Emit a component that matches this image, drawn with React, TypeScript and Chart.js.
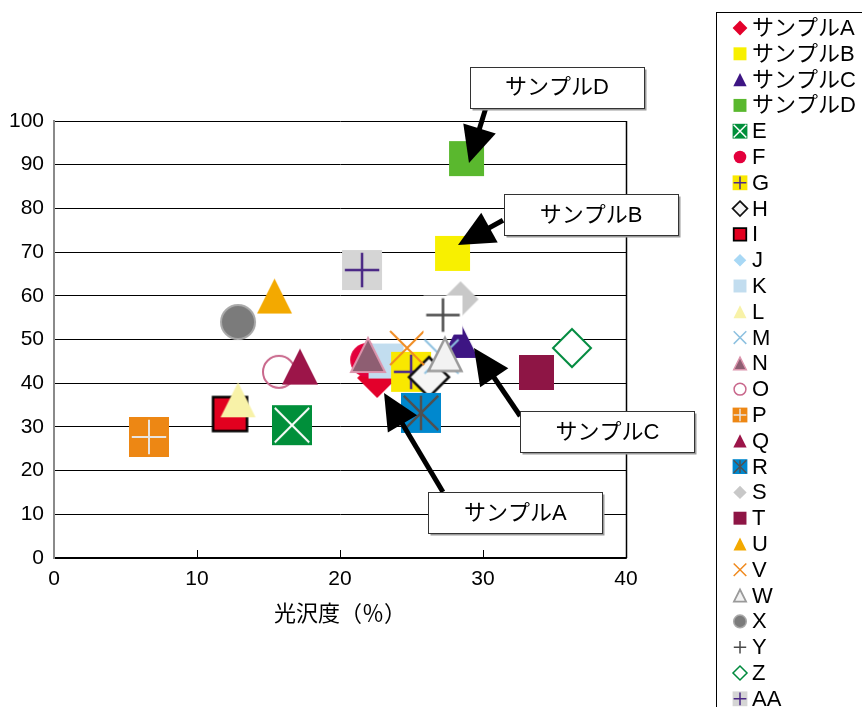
import { useEffect, useRef } from 'react';
import { Chart, registerables } from 'chart.js';

Chart.register(...registerables);

const FONT = '"Liberation Sans", "Noto Sans CJK JP", sans-serif';
const LABEL_FONT = `22px ${FONT}`;

// Series (legend order)
const seriesNames = [
  'サンプルA', 'サンプルB', 'サンプルC', 'サンプルD', 'E', 'F', 'G', 'H', 'I',
  'J', 'K', 'L', 'M', 'N', 'O', 'P', 'Q', 'R', 'S', 'T', 'U', 'V', 'W', 'X',
  'Y', 'Z', 'AA',
];

// 光沢度 (%)
const glossValues = [
  22.6, 27.87, 28.4, 28.85, 16.64, 21.9, 24.97, 26.22, 12.31,
  23.2, 23.22, 12.87, 27.1, 21.96, 15.73, 6.64, 17.2, 25.66, 28.43, 33.74,
  15.42, 24.69, 27.34, 12.87, 27.2, 36.22, 21.54,
];

// Vertical-axis values
const scoreValues = [
  41.2, 69.7, 49.9, 91.4, 30.4, 45.3, 42.6, 41.4, 32.95,
  45.1, 45.08, 36.2, 46.1, 46.45, 42.6, 27.7, 43.8, 33.2, 59.2, 42.45,
  59.95, 48.05, 46.57, 54.0, 55.6, 48.05, 65.9,
];

// Stacking rank of each series (higher is drawn on top)
const stackRank = [
  0, 1, 2, 3, 4, 5, 10.5, 10.7, 8,
  9, 10, 11, 12, 13, 14, 15, 16, 17, 18, 19,
  20, 21, 22, 23, 24, 25, 26,
];

// Axis ranges
const xMin = 0;
const xMax = 40;
const xStep = 10;
const yMin = 0;
const yMax = 100;
const yStep = 10;
const xTitle = '光沢度（％）';

// Callouts: label, box centre and arrow (tail → tip) in data units
const calloutLabels = ['サンプルD', 'サンプルB', 'サンプルC', 'サンプルA'];
const calloutBoxX = [35.17, 37.55, 38.7, 32.27];
const calloutBoxY = [107.7, 78.5, 28.95, 10.3];
const calloutTailX = [30.2, 31.4, 32.6, 27.2];
const calloutTailY = [103.0, 77.3, 32.5, 15.1];
const calloutTipX = [29.02, 28.25, 29.37, 23.08];
const calloutTipY = [90.4, 71.6, 48.05, 37.76];

type Shape = 'square' | 'diamond' | 'triangle' | 'circle' | 'x' | 'plus';
interface MarkerStyle {
  shape: Shape;
  size: number;
  fill?: string;
  stroke?: string;
  lineWidth?: number;
  inner?: 'x' | 'plus' | 'star';
  innerColor?: string;
  innerWidth?: number;
}

const markerStyles: MarkerStyle[] = [
  { shape: 'diamond', size: 40, fill: '#e3002b' },
  { shape: 'square', size: 35, fill: '#f8f000' },
  { shape: 'triangle', size: 36, fill: '#3d1583' },
  { shape: 'square', size: 35, fill: '#5ab82e' },
  { shape: 'square', size: 40, fill: '#008f3a', inner: 'x', innerColor: '#ffffff', innerWidth: 2 },
  { shape: 'circle', size: 34, fill: '#e3003c' },
  { shape: 'square', size: 40, fill: '#f9e800', inner: 'plus', innerColor: '#4b2a8a', innerWidth: 2.5 },
  { shape: 'diamond', size: 40, fill: '#f5f5f5', stroke: '#111111', lineWidth: 2.5 },
  { shape: 'square', size: 34, fill: '#e2001f', stroke: '#000000', lineWidth: 2.5 },
  { shape: 'diamond', size: 34, fill: '#a8d8f5' },
  { shape: 'square', size: 35, fill: '#c2ddef' },
  { shape: 'triangle', size: 35, fill: '#f8f2a8' },
  { shape: 'x', size: 34, stroke: '#8dc1e0', lineWidth: 2 },
  { shape: 'triangle', size: 34, fill: '#8e5e72', stroke: '#dc95ad', lineWidth: 2 },
  { shape: 'circle', size: 32, stroke: '#c9688c', lineWidth: 2 },
  { shape: 'square', size: 40, fill: '#ed8714', inner: 'plus', innerColor: '#e9e4df', innerWidth: 2 },
  { shape: 'triangle', size: 36, fill: '#9c1549' },
  { shape: 'square', size: 40, fill: '#0088ce', inner: 'star', innerColor: '#505050', innerWidth: 2.5 },
  { shape: 'diamond', size: 36, fill: '#c8c8c8' },
  { shape: 'square', size: 35, fill: '#8e1545' },
  { shape: 'triangle', size: 35, fill: '#f3a900' },
  { shape: 'x', size: 34, stroke: '#f08a1e', lineWidth: 2 },
  { shape: 'triangle', size: 33, fill: '#f2f2f2', stroke: '#9a9a9a', lineWidth: 2.5 },
  { shape: 'circle', size: 34, fill: '#7b7b7b', stroke: '#a8a8a8', lineWidth: 2 },
  { shape: 'square', size: 39, fill: '#ffffff', inner: 'plus', innerColor: '#4a4a4a', innerWidth: 2.5 },
  { shape: 'diamond', size: 38, fill: '#ffffff', stroke: '#008a3e', lineWidth: 2 },
  { shape: 'square', size: 40, fill: '#d5d5d5', inner: 'plus', innerColor: '#4a2785', innerWidth: 2.5 },
];

function drawMarker(ctx: CanvasRenderingContext2D, m: MarkerStyle, cx: number, cy: number, scale: number) {
  const s = m.size * scale;
  const h = s / 2;
  const small = scale < 1;
  ctx.save();
  ctx.beginPath();
  switch (m.shape) {
    case 'square':
      ctx.rect(cx - h, cy - h, s, s);
      break;
    case 'diamond':
      ctx.moveTo(cx, cy - h);
      ctx.lineTo(cx + h, cy);
      ctx.lineTo(cx, cy + h);
      ctx.lineTo(cx - h, cy);
      ctx.closePath();
      break;
    case 'triangle':
      ctx.moveTo(cx, cy - h);
      ctx.lineTo(cx + h, cy + h);
      ctx.lineTo(cx - h, cy + h);
      ctx.closePath();
      break;
    case 'circle':
      ctx.arc(cx, cy, h, 0, Math.PI * 2);
      break;
    case 'x':
      ctx.moveTo(cx - h, cy - h);
      ctx.lineTo(cx + h, cy + h);
      ctx.moveTo(cx + h, cy - h);
      ctx.lineTo(cx - h, cy + h);
      break;
    case 'plus':
      ctx.moveTo(cx - h, cy);
      ctx.lineTo(cx + h, cy);
      ctx.moveTo(cx, cy - h);
      ctx.lineTo(cx, cy + h);
      break;
  }
  if (m.fill) {
    ctx.fillStyle = m.fill;
    ctx.fill();
  }
  if (m.stroke) {
    ctx.strokeStyle = m.stroke;
    ctx.lineWidth = small ? Math.max(1.5, (m.lineWidth ?? 2) * 0.7) : m.lineWidth ?? 2;
    ctx.lineJoin = 'miter';
    ctx.stroke();
  }
  if (m.inner) {
    const a = h * 0.86;
    ctx.beginPath();
    if (m.inner === 'x' || m.inner === 'star') {
      ctx.moveTo(cx - a, cy - a);
      ctx.lineTo(cx + a, cy + a);
      ctx.moveTo(cx + a, cy - a);
      ctx.lineTo(cx - a, cy + a);
    }
    if (m.inner === 'star') {
      ctx.moveTo(cx, cy - a);
      ctx.lineTo(cx, cy + a);
    }
    if (m.inner === 'plus') {
      ctx.moveTo(cx - a, cy);
      ctx.lineTo(cx + a, cy);
      ctx.moveTo(cx, cy - a);
      ctx.lineTo(cx, cy + a);
    }
    ctx.strokeStyle = m.innerColor ?? '#000';
    ctx.lineWidth = small ? 1.5 : m.innerWidth ?? 2;
    ctx.stroke();
  }
  ctx.restore();
}

function markerCanvas(m: MarkerStyle): HTMLCanvasElement {
  const c = document.createElement('canvas');
  const dim = Math.ceil(m.size + (m.lineWidth ?? 0) + 4);
  c.width = dim;
  c.height = dim;
  const ctx = c.getContext('2d')!;
  drawMarker(ctx, m, dim / 2, dim / 2, 1);
  return c;
}

function drawArrow(ctx: CanvasRenderingContext2D, x0: number, y0: number, x1: number, y1: number) {
  const dx = x1 - x0;
  const dy = y1 - y0;
  const len = Math.hypot(dx, dy);
  const ux = dx / len;
  const uy = dy / len;
  const headLen = 36;
  const headHalf = 17;
  const bx = x1 - ux * headLen;
  const by = y1 - uy * headLen;
  ctx.save();
  ctx.strokeStyle = '#000';
  ctx.lineWidth = 5;
  ctx.beginPath();
  ctx.moveTo(x0, y0);
  ctx.lineTo(bx + ux * 4, by + uy * 4);
  ctx.stroke();
  ctx.fillStyle = '#000';
  ctx.beginPath();
  ctx.moveTo(x1, y1);
  ctx.lineTo(bx - uy * headHalf, by + ux * headHalf);
  ctx.lineTo(bx + uy * headHalf, by - ux * headHalf);
  ctx.closePath();
  ctx.fill();
  ctx.restore();
}

const pagePlugin = {
  id: 'pageDecor',
  beforeDraw(chart: any) {
    const { ctx, width, height } = chart;
    ctx.save();
    ctx.fillStyle = '#ffffff';
    ctx.fillRect(0, 0, width, height);
    ctx.restore();
  },
  beforeDatasetsDraw(chart: any) {
    const { ctx, chartArea } = chart;
    ctx.save();
    ctx.strokeStyle = '#000';
    ctx.lineWidth = 1.5;
    ctx.beginPath();
    ctx.moveTo(Math.round(chartArea.right) + 0.5, chartArea.top);
    ctx.lineTo(Math.round(chartArea.right) + 0.5, chartArea.bottom);
    ctx.stroke();
    ctx.restore();
  },
  afterDatasetsDraw(chart: any) {
    const { ctx } = chart;
    const xs = chart.scales.x;
    const ys = chart.scales.y;
    const boxW = 174;
    const boxH = 41;
    calloutLabels.forEach((_, i) => {
      drawArrow(
        ctx,
        xs.getPixelForValue(calloutTailX[i]),
        ys.getPixelForValue(calloutTailY[i]),
        xs.getPixelForValue(calloutTipX[i]),
        ys.getPixelForValue(calloutTipY[i]),
      );
    });
    calloutLabels.forEach((label, i) => {
      const cx = xs.getPixelForValue(calloutBoxX[i]);
      const cy = ys.getPixelForValue(calloutBoxY[i]);
      const left = Math.round(cx - boxW / 2) + 0.5;
      const top = Math.round(cy - boxH / 2) + 0.5;
      ctx.save();
      ctx.fillStyle = '#9a9a9a';
      ctx.fillRect(left + 2, top + 2, boxW, boxH);
      ctx.fillStyle = '#ffffff';
      ctx.fillRect(left, top, boxW, boxH);
      ctx.strokeStyle = '#333333';
      ctx.lineWidth = 1;
      ctx.strokeRect(left, top, boxW, boxH);
      ctx.fillStyle = '#000';
      ctx.font = LABEL_FONT;
      ctx.textAlign = 'center';
      ctx.textBaseline = 'middle';
      ctx.fillText(label, cx, cy + 1);
      ctx.restore();
    });
  },
  afterDraw(chart: any) {
    const { ctx } = chart;
    ctx.save();
    ctx.strokeStyle = '#000';
    ctx.lineWidth = 1;
    ctx.strokeRect(716.5, 12.5, 300, 760);
    ctx.font = LABEL_FONT;
    ctx.textAlign = 'left';
    ctx.textBaseline = 'middle';
    seriesNames.forEach((name, i) => {
      const y = 28 + i * 25.8;
      drawMarker(ctx, markerStyles[i], 740, y, 0.37);
      ctx.fillStyle = '#000';
      ctx.fillText(name, 752, y + 1);
    });
    ctx.restore();
  },
};

export default function App() {
  const ref = useRef<HTMLCanvasElement>(null);

  useEffect(() => {
    if (!ref.current) return;
    const datasets = seriesNames.map((name, i) => ({
      label: name,
      data: [{ x: glossValues[i], y: scoreValues[i] }],
      pointStyle: markerCanvas(markerStyles[i]),
      pointRadius: 20,
      pointHoverRadius: 20,
      showLine: false,
      order: -stackRank[i],
      clip: false as const,
    }));

    const chart = new Chart(ref.current, {
      type: 'scatter',
      data: { datasets },
      options: {
        responsive: false,
        animation: false,
        events: [],
        layout: { padding: { left: 0, right: 236, top: 121, bottom: 0 } },
        plugins: {
          legend: { display: false },
          tooltip: { enabled: false },
        },
        scales: {
          x: {
            type: 'linear',
            min: xMin,
            max: xMax,
            ticks: {
              stepSize: xStep,
              color: '#000',
              font: { family: FONT, size: 21 },
              padding: 17,
              maxRotation: 0,
            },
            grid: {
              drawOnChartArea: false,
              drawTicks: true,
              tickLength: -8,
              color: '#000',
              lineWidth: 1,
            },
            border: { display: true, color: '#000', width: 1.5 },
            title: {
              display: true,
              text: xTitle,
              color: '#000',
              font: { family: FONT, size: 22 },
              padding: { top: 0, bottom: 79 },
            },
            afterFit: (scale: any) => {
              scale.height = 149;
            },
          },
          y: {
            type: 'linear',
            min: yMin,
            max: yMax,
            ticks: {
              stepSize: yStep,
              color: '#000',
              font: { family: FONT, size: 21 },
              padding: 10,
            },
            grid: { color: '#000', lineWidth: 1, drawTicks: false },
            border: { display: true, color: '#8a8a8a', width: 2 },
            afterFit: (scale: any) => {
              scale.width = 54;
            },
          },
        },
      },
      plugins: [pagePlugin],
    });
    return () => chart.destroy();
  }, []);

  return (
    <div style={{ position: 'absolute', left: 0, top: 0, width: 862, height: 707 }}>
      <canvas ref={ref} width={862} height={707} style={{ display: 'block', width: 862, height: 707 }} />
    </div>
  );
}
